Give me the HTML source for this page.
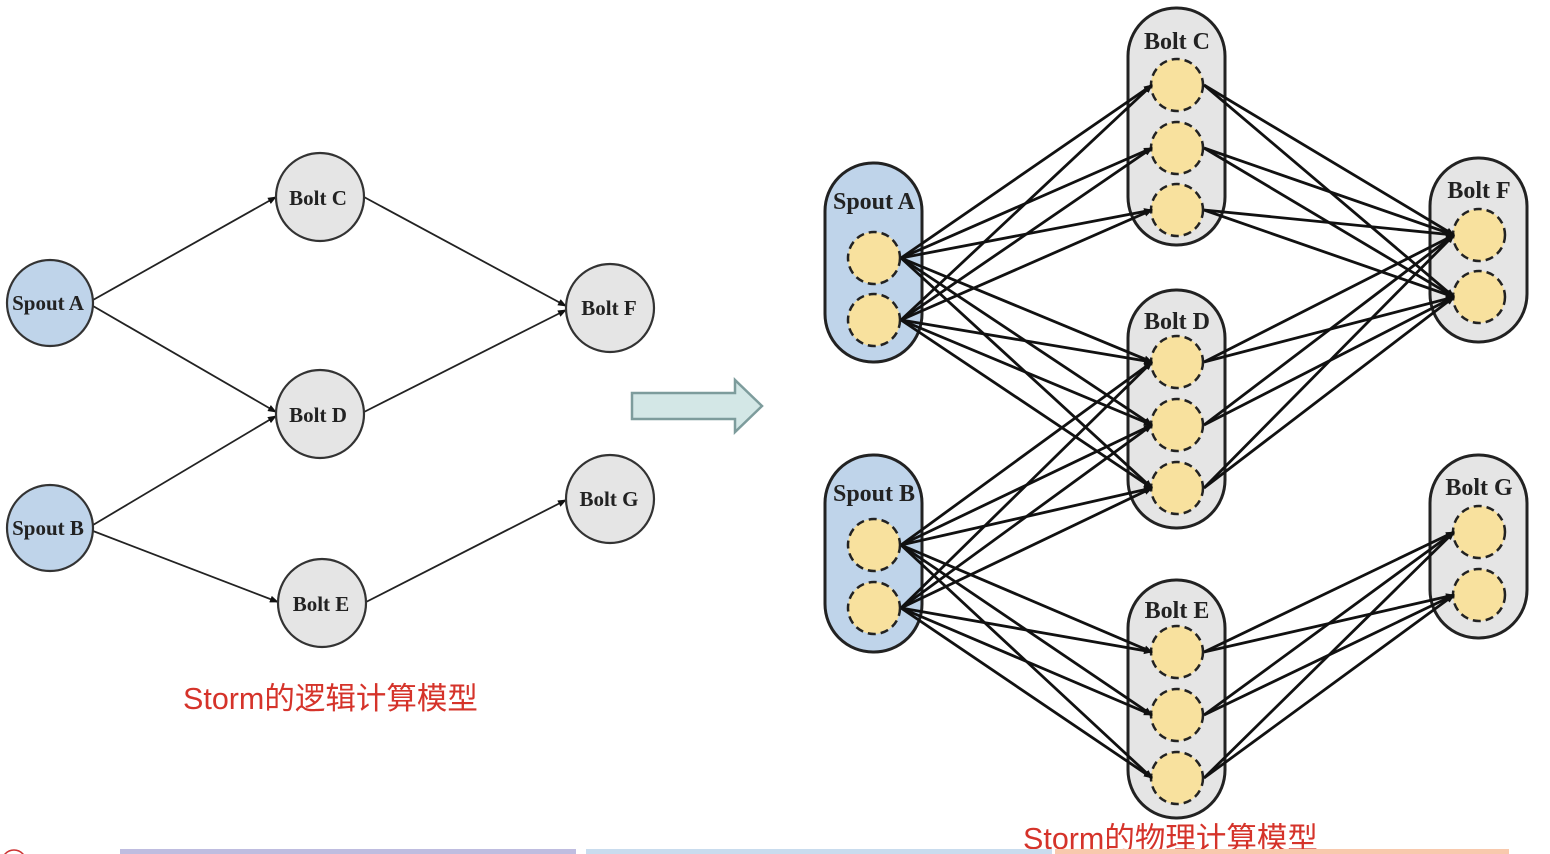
<!DOCTYPE html>
<html><head><meta charset="utf-8"><style>
html,body{margin:0;padding:0;background:#fff;width:1550px;height:854px;overflow:hidden}
svg{position:absolute;left:0;top:0}
text{font-family:"Liberation Serif",serif;font-weight:bold}
.cn{font-family:"Liberation Sans","Noto Sans CJK SC",sans-serif;font-weight:normal;fill:#d5332a;font-size:30.5px}
</style></head><body>
<svg id="s" width="1550" height="854" viewBox="0 0 1550 854">
<defs><marker id="ar" markerWidth="9" markerHeight="9" refX="8" refY="4.5" orient="auto" markerUnits="userSpaceOnUse"><path d="M0,1 L9,4.5 L0,8z" fill="#111"/></marker></defs>
<g id="logic" stroke="#222" stroke-width="1.8">
<line x1="93" y1="300" x2="276" y2="197" marker-end="url(#ar)"/>
<line x1="93" y1="306" x2="276" y2="412" marker-end="url(#ar)"/>
<line x1="93" y1="525" x2="276" y2="416" marker-end="url(#ar)"/>
<line x1="93" y1="531" x2="278" y2="602" marker-end="url(#ar)"/>
<line x1="364" y1="197" x2="566" y2="306" marker-end="url(#ar)"/>
<line x1="364" y1="412" x2="566" y2="310" marker-end="url(#ar)"/>
<line x1="366" y1="602" x2="566" y2="500" marker-end="url(#ar)"/>
</g>
<g stroke="#333" stroke-width="2.2">
<circle cx="50" cy="303" r="43" fill="#bfd4ea"/>
<circle cx="50" cy="528" r="43" fill="#bfd4ea"/>
<circle cx="320" cy="197" r="44" fill="#e5e5e5"/>
<circle cx="320" cy="414" r="44" fill="#e5e5e5"/>
<circle cx="322" cy="603" r="44" fill="#e5e5e5"/>
<circle cx="610" cy="308" r="44" fill="#e5e5e5"/>
<circle cx="610" cy="499" r="44" fill="#e5e5e5"/>
</g>
<g font-size="21" fill="#222" text-anchor="middle">
<text x="48" y="310">Spout A</text><text x="48" y="535">Spout B</text>
<text x="318" y="205">Bolt C</text><text x="318" y="422">Bolt D</text>
<text x="321" y="611">Bolt E</text><text x="609" y="315">Bolt F</text>
<text x="609" y="506">Bolt G</text>
</g>
<text class="cn" x="183" y="709">Storm的逻辑计算模型</text>
<path d="M632,393 L735,393 L735,380 L762,406 L735,432 L735,419 L632,419 Z" fill="#d3e7e6" stroke="#7d9c9c" stroke-width="2.5"/>
<g id="phys"></g>
<text class="cn" x="1023" y="849">Storm的物理计算模型</text>
<rect x="120" y="849" width="456" height="5" fill="#bfbde0"/>
<rect x="586" y="849" width="466" height="5" fill="#c9dcee"/>
<rect x="1055" y="849" width="454" height="5" fill="#f8c9ad"/>
<circle cx="14" cy="862" r="12" fill="none" stroke="#c33" stroke-width="1.5"/>
</svg>
<script>
var N={
A:{x:825,y:163,h:199,c:'#bfd4ea',l:'Spout A',o:46,t:[258,320]},
B:{x:825,y:455,h:197,c:'#bfd4ea',l:'Spout B',o:46,t:[545,608]},
C:{x:1128,y:8,h:237,c:'#e5e5e5',l:'Bolt C',o:41,t:[85,148,210]},
D:{x:1128,y:290,h:238,c:'#e5e5e5',l:'Bolt D',o:39,t:[362,425,488]},
E:{x:1128,y:580,h:238,c:'#e5e5e5',l:'Bolt E',o:38,t:[652,715,778]},
F:{x:1430,y:158,h:184,c:'#e5e5e5',l:'Bolt F',o:40,t:[235,297]},
G:{x:1430,y:455,h:183,c:'#e5e5e5',l:'Bolt G',o:40,t:[532,595]}};
var E=[['A','C'],['A','D'],['B','D'],['B','E'],['C','F'],['D','F'],['E','G']];
var g=document.getElementById('phys'),h='';
E.forEach(function(e){var s=N[e[0]],d=N[e[1]];s.t.forEach(function(a){d.t.forEach(function(b){
h+='<line x1="'+(s.x+76)+'" y1="'+a+'" x2="'+(d.x+24)+'" y2="'+b+'" stroke="#111" stroke-width="2.8" marker-end="url(#ar)"/>';});});});
var nodes='';
for(var k in N){var n=N[k];var cx=n.x+49;
nodes+='<rect x="'+n.x+'" y="'+n.y+'" width="97" height="'+n.h+'" rx="48" ry="48" fill="'+n.c+'" stroke="#222" stroke-width="3"/>';
nodes+='<text x="'+cx+'" y="'+(n.y+n.o)+'" font-size="24" fill="#222" text-anchor="middle">'+n.l+'</text>';
n.t.forEach(function(y){nodes+='<circle cx="'+cx+'" cy="'+y+'" r="26" fill="#f8e19e" stroke="#222" stroke-width="2.5" stroke-dasharray="8 5"/>';});}
g.innerHTML=nodes+h;
</script>
</body></html>
